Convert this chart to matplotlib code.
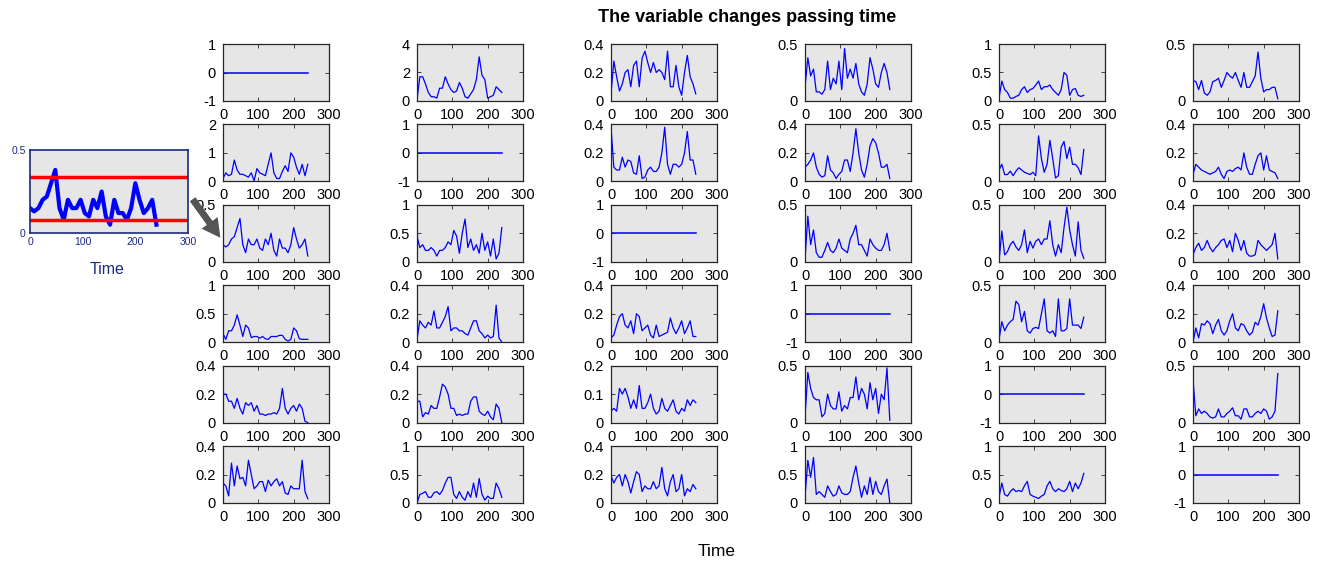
import numpy as np
import matplotlib.pyplot as plt
from matplotlib.patches import FancyArrowPatch

plt.rcParams['font.family'] = ['Liberation Sans', 'DejaVu Sans']

# sample times (every 8th step)
t = [0, 8, 16, 24, 32, 40, 48, 56, 64, 72, 80, 88, 96, 104, 112, 120,
     128, 136, 144, 152, 160, 168, 176, 184, 192, 200, 208, 216, 224, 232, 240]

flat = [0, 0, 0, 0, 0, 0, 0, 0, 0, 0, 0, 0, 0, 0, 0, 0,
        0, 0, 0, 0, 0, 0, 0, 0, 0, 0, 0, 0, 0, 0, 0]

# row 1
s12 = [0.1, 1.7, 1.7, 1.2, 0.6, 0.3, 0.3, 0.2, 0.9, 0.9, 1.7, 1.2, 0.8, 0.6, 0.7, 1.3,
       0.9, 0.3, 0.2, 0.5, 0.8, 1.5, 3.1, 1.8, 1.5, 0.2, 0.3, 0.4, 1.0, 0.8, 0.6]
s13 = [0.05, 0.28, 0.17, 0.07, 0.12, 0.2, 0.22, 0.1, 0.25, 0.28, 0.1, 0.3, 0.35, 0.27, 0.2, 0.27,
       0.2, 0.22, 0.2, 0.15, 0.35, 0.1, 0.1, 0.25, 0.1, 0.04, 0.2, 0.32, 0.17, 0.12, 0.05]
s14 = [0.12, 0.38, 0.22, 0.28, 0.08, 0.08, 0.06, 0.1, 0.35, 0.1, 0.2, 0.15, 0.35, 0.1, 0.46, 0.2,
       0.28, 0.2, 0.33, 0.15, 0.08, 0.05, 0.15, 0.38, 0.28, 0.15, 0.12, 0.25, 0.33, 0.25, 0.1]
s15 = [0.05, 0.35, 0.2, 0.15, 0.05, 0.05, 0.08, 0.1, 0.2, 0.25, 0.15, 0.2, 0.22, 0.28, 0.35, 0.2,
       0.25, 0.25, 0.28, 0.2, 0.15, 0.1, 0.2, 0.5, 0.45, 0.1, 0.2, 0.22, 0.1, 0.08, 0.1]
s16 = [0.18, 0.17, 0.1, 0.18, 0.07, 0.05, 0.08, 0.17, 0.18, 0.2, 0.12, 0.18, 0.25, 0.22, 0.2, 0.25,
       0.18, 0.12, 0.25, 0.12, 0.12, 0.17, 0.22, 0.43, 0.2, 0.08, 0.1, 0.1, 0.12, 0.12, 0.02]

# row 2
s21 = [0.1, 0.3, 0.2, 0.25, 0.75, 0.4, 0.25, 0.25, 0.2, 0.15, 0.3, 0.02, 0.45, 0.3, 0.25, 0.2,
       0.6, 1.0, 0.3, 0.1, 0.1, 0.35, 0.55, 0.35, 1.0, 0.85, 0.5, 0.25, 0.6, 0.2, 0.6]
s23 = [0.38, 0.1, 0.08, 0.08, 0.17, 0.1, 0.15, 0.14, 0.06, 0.05, 0.18, 0.02, 0.03, 0.08, 0.1, 0.07,
       0.07, 0.1, 0.2, 0.38, 0.12, 0.05, 0.12, 0.12, 0.1, 0.12, 0.2, 0.35, 0.15, 0.15, 0.05]
s24 = [0.1, 0.12, 0.15, 0.2, 0.1, 0.05, 0.03, 0.04, 0.18, 0.08, 0.06, 0.02, 0.05, 0.07, 0.15, 0.15,
       0.07, 0.2, 0.37, 0.2, 0.08, 0.03, 0.12, 0.25, 0.3, 0.27, 0.2, 0.1, 0.1, 0.12, 0.02]
s25 = [0.1, 0.15, 0.06, 0.06, 0.09, 0.05, 0.09, 0.12, 0.1, 0.08, 0.07, 0.06, 0.08, 0.05, 0.4, 0.2,
       0.08, 0.15, 0.36, 0.2, 0.03, 0.05, 0.3, 0.35, 0.2, 0.3, 0.15, 0.15, 0.12, 0.06, 0.28]
s26 = [0.05, 0.12, 0.1, 0.08, 0.07, 0.06, 0.05, 0.06, 0.07, 0.1, 0.05, 0.02, 0.07, 0.08, 0.07, 0.09,
       0.1, 0.08, 0.2, 0.1, 0.05, 0.05, 0.12, 0.18, 0.2, 0.08, 0.18, 0.08, 0.07, 0.06, 0.02]

# row 3
s31 = [0.15, 0.13, 0.15, 0.2, 0.22, 0.3, 0.38, 0.15, 0.08, 0.2, 0.15, 0.15, 0.2, 0.12, 0.1, 0.2,
       0.15, 0.25, 0.1, 0.05, 0.2, 0.12, 0.12, 0.08, 0.15, 0.3, 0.2, 0.12, 0.15, 0.2, 0.05]
s32 = [0.45, 0.25, 0.3, 0.2, 0.2, 0.25, 0.2, 0.1, 0.2, 0.2, 0.25, 0.35, 0.3, 0.55, 0.45, 0.15,
       0.5, 0.75, 0.25, 0.4, 0.2, 0.3, 0.15, 0.5, 0.2, 0.35, 0.1, 0.4, 0.05, 0.15, 0.6]
s34 = [0.02, 0.4, 0.15, 0.28, 0.08, 0.04, 0.04, 0.1, 0.17, 0.1, 0.08, 0.12, 0.2, 0.12, 0.1, 0.08,
       0.2, 0.25, 0.32, 0.15, 0.15, 0.1, 0.05, 0.2, 0.15, 0.12, 0.1, 0.1, 0.15, 0.25, 0.1]
s35 = [0.0, 0.27, 0.06, 0.09, 0.15, 0.18, 0.13, 0.1, 0.15, 0.28, 0.08, 0.18, 0.12, 0.18, 0.2, 0.15,
       0.2, 0.2, 0.36, 0.15, 0.05, 0.15, 0.08, 0.3, 0.48, 0.28, 0.15, 0.05, 0.35, 0.1, 0.03]
s36 = [0.05, 0.1, 0.13, 0.08, 0.1, 0.15, 0.1, 0.07, 0.1, 0.12, 0.15, 0.16, 0.1, 0.15, 0.07, 0.2,
       0.15, 0.08, 0.15, 0.06, 0.04, 0.04, 0.05, 0.15, 0.12, 0.1, 0.08, 0.1, 0.12, 0.2, 0.02]

# row 4
s41 = [0.15, 0.05, 0.2, 0.2, 0.3, 0.48, 0.3, 0.1, 0.3, 0.25, 0.08, 0.1, 0.1, 0.07, 0.1, 0.06,
       0.05, 0.1, 0.1, 0.1, 0.12, 0.12, 0.05, 0.02, 0.05, 0.25, 0.2, 0.06, 0.05, 0.05, 0.05]
s42 = [0.02, 0.15, 0.12, 0.1, 0.14, 0.12, 0.22, 0.1, 0.1, 0.14, 0.18, 0.25, 0.08, 0.1, 0.1, 0.08,
       0.08, 0.06, 0.05, 0.1, 0.15, 0.15, 0.08, 0.06, 0.03, 0.05, 0.03, 0.04, 0.26, 0.03, 0.0]
s43 = [0.03, 0.05, 0.12, 0.18, 0.2, 0.12, 0.1, 0.15, 0.06, 0.2, 0.18, 0.08, 0.1, 0.12, 0.05, 0.03,
       0.12, 0.04, 0.05, 0.06, 0.07, 0.17, 0.1, 0.06, 0.1, 0.15, 0.06, 0.1, 0.15, 0.04, 0.04]
s45 = [0.02, 0.18, 0.1, 0.15, 0.18, 0.2, 0.36, 0.33, 0.18, 0.27, 0.1, 0.08, 0.12, 0.13, 0.12, 0.25,
       0.38, 0.1, 0.08, 0.1, 0.05, 0.38, 0.1, 0.1, 0.12, 0.38, 0.15, 0.15, 0.15, 0.12, 0.22]
s46 = [0.0, 0.1, 0.03, 0.13, 0.12, 0.15, 0.13, 0.06, 0.12, 0.16, 0.08, 0.05, 0.08, 0.15, 0.2, 0.1,
       0.08, 0.13, 0.12, 0.08, 0.05, 0.07, 0.14, 0.12, 0.18, 0.27, 0.17, 0.1, 0.04, 0.05, 0.22]

# row 5
s51 = [0.2, 0.2, 0.15, 0.15, 0.1, 0.17, 0.1, 0.06, 0.14, 0.12, 0.14, 0.08, 0.12, 0.06, 0.06, 0.05,
       0.06, 0.06, 0.07, 0.06, 0.1, 0.24, 0.1, 0.06, 0.1, 0.12, 0.08, 0.13, 0.1, 0.01, 0.0]
s52 = [0.15, 0.15, 0.04, 0.07, 0.06, 0.12, 0.1, 0.1, 0.18, 0.27, 0.25, 0.2, 0.1, 0.1, 0.05, 0.06,
       0.05, 0.06, 0.06, 0.15, 0.18, 0.18, 0.08, 0.06, 0.05, 0.08, 0.04, 0.02, 0.13, 0.1, 0.0]
s53 = [0.04, 0.05, 0.04, 0.12, 0.1, 0.12, 0.09, 0.05, 0.08, 0.05, 0.13, 0.05, 0.05, 0.07, 0.1, 0.05,
       0.03, 0.04, 0.085, 0.05, 0.04, 0.06, 0.08, 0.04, 0.03, 0.05, 0.04, 0.08, 0.06, 0.08, 0.07]
s54 = [0.05, 0.44, 0.3, 0.22, 0.2, 0.2, 0.05, 0.08, 0.25, 0.15, 0.12, 0.12, 0.27, 0.1, 0.15, 0.12,
       0.22, 0.22, 0.4, 0.2, 0.3, 0.25, 0.12, 0.35, 0.2, 0.3, 0.08, 0.25, 0.2, 0.48, 0.02]
s56 = [0.38, 0.06, 0.12, 0.08, 0.1, 0.08, 0.05, 0.04, 0.05, 0.12, 0.05, 0.05, 0.08, 0.1, 0.13, 0.06,
       0.06, 0.03, 0.12, 0.12, 0.05, 0.05, 0.08, 0.1, 0.08, 0.12, 0.1, 0.03, 0.05, 0.1, 0.43]

# row 6
s61 = [0.14, 0.12, 0.05, 0.28, 0.12, 0.26, 0.17, 0.18, 0.12, 0.3, 0.2, 0.1, 0.12, 0.15, 0.15, 0.08,
       0.16, 0.12, 0.15, 0.17, 0.12, 0.15, 0.07, 0.06, 0.12, 0.1, 0.1, 0.1, 0.3, 0.08, 0.03]
s62 = [0.0, 0.15, 0.17, 0.2, 0.1, 0.1, 0.18, 0.2, 0.15, 0.22, 0.35, 0.45, 0.45, 0.15, 0.08, 0.2,
       0.1, 0.05, 0.2, 0.1, 0.35, 0.1, 0.43, 0.15, 0.05, 0.12, 0.08, 0.08, 0.35, 0.25, 0.1]
s63 = [0.19, 0.14, 0.18, 0.2, 0.12, 0.2, 0.15, 0.07, 0.15, 0.22, 0.2, 0.08, 0.12, 0.1, 0.1, 0.15,
       0.1, 0.12, 0.25, 0.1, 0.05, 0.15, 0.2, 0.08, 0.1, 0.2, 0.05, 0.1, 0.08, 0.13, 0.1]
s64 = [0.1, 0.75, 0.45, 0.8, 0.15, 0.2, 0.15, 0.1, 0.3, 0.2, 0.12, 0.15, 0.3, 0.18, 0.15, 0.15,
       0.2, 0.45, 0.65, 0.35, 0.1, 0.3, 0.15, 0.45, 0.15, 0.38, 0.2, 0.15, 0.3, 0.42, 0.0]
s65 = [0.1, 0.35, 0.15, 0.12, 0.2, 0.25, 0.2, 0.22, 0.2, 0.3, 0.38, 0.15, 0.12, 0.1, 0.08, 0.12,
       0.15, 0.3, 0.38, 0.25, 0.2, 0.25, 0.22, 0.2, 0.25, 0.38, 0.2, 0.35, 0.25, 0.35, 0.52]

grid = [[flat, s12, s13, s14, s15, s16],
        [s21, flat, s23, s24, s25, s26],
        [s31, s32, flat, s34, s35, s36],
        [s41, s42, s43, flat, s45, s46],
        [s51, s52, s53, s54, flat, s56],
        [s61, s62, s63, s64, s65, flat]]

# y ticks of each panel
yt_flat = [-1, 0, 1]
yt_4 = [0, 2, 4]
yt_2 = [0, 1, 2]
yt_1 = [0, 0.5, 1]
yt_05 = [0, 0.5]
yt_04 = [0, 0.2, 0.4]
yt_02 = [0, 0.1, 0.2]
yticks = [[yt_flat, yt_4, yt_04, yt_05, yt_1, yt_05],
          [yt_2, yt_flat, yt_04, yt_04, yt_05, yt_04],
          [yt_05, yt_1, yt_flat, yt_05, yt_05, yt_04],
          [yt_1, yt_04, yt_04, yt_flat, yt_05, yt_04],
          [yt_04, yt_04, yt_02, yt_05, yt_flat, yt_05],
          [yt_04, yt_1, yt_04, yt_1, yt_1, yt_flat]]

# thresholds drawn on the zoomed panel
hi_level = 0.34
lo_level = 0.08


def main():
    fig = plt.figure(figsize=(13.2, 5.62), dpi=100)
    left0, width, dx = 223 / 1320, 106 / 1320, 194 / 1320
    top0, height, dy = 1 - 44 / 562, 57 / 562, 80.4 / 562

    for i in range(6):
        for j in range(6):
            ax = fig.add_axes([left0 + j * dx, top0 - height - i * dy, width, height])
            ax.set_facecolor('#e6e6e6')
            yt = yticks[i][j]
            lw = 1.1 if yt is yt_flat else 0.9
            ax.plot(t, grid[i][j], color='blue', lw=lw)
            ax.set_ylim(yt[0], yt[-1])
            ax.set_yticks(yt)
            ax.set_yticklabels(['%g' % v for v in yt])
            ax.set_xlim(0, 300)
            ax.set_xticks([0, 100, 200, 300])
            ax.tick_params(direction='in', top=True, right=True, length=3,
                           width=0.6, labelsize=10.5, color='#262626')
            ax.tick_params(axis='x', pad=5)
            ax.tick_params(axis='y', pad=5)
            for sp in ax.spines.values():
                sp.set_color('#262626')
                sp.set_linewidth(0.9)

    fig.text(0.566, 0.968, 'The variable changes passing time', ha='center', va='center',
             fontsize=13, fontweight='bold')
    fig.text(0.543, 0.018, 'Time', ha='center', va='center', fontsize=12.5)

    # zoomed copy of one panel on the left
    navy = '#1a2a80'
    ax_in = fig.add_axes([30 / 1320, 1 - 233 / 562, 158 / 1320, 83 / 562])
    ax_in.set_facecolor('#e6e6e6')
    ax_in.plot(t, s31, color='blue', lw=3)
    ax_in.axhline(hi_level, color='red', lw=2.5)
    ax_in.axhline(lo_level, color='red', lw=2.5)
    ax_in.set_xlim(0, 300)
    ax_in.set_ylim(0, 0.5)
    ax_in.set_xticks([0, 100, 200, 300])
    ax_in.set_yticks([0, 0.5])
    ax_in.set_yticklabels(['0', '0.5'])
    ax_in.tick_params(length=0, labelsize=7.5, labelcolor=navy, pad=3)
    for sp in ax_in.spines.values():
        sp.set_color(navy)
        sp.set_linewidth(1.2)
    fig.text(107 / 1320, 1 - 270 / 562, 'Time', ha='center', va='center',
             fontsize=11.5, color=navy)

    fig.add_artist(FancyArrowPatch(
        (191 / 1320, 1 - 197 / 562), (222 / 1320, 1 - 240 / 562),
        transform=fig.transFigure,
        arrowstyle='simple,head_width=1.3,head_length=1.2,tail_width=0.45',
        mutation_scale=11, color='#555555', lw=0))

    fig.savefig('out.png', dpi=100)


if __name__ == '__main__':
    main()
